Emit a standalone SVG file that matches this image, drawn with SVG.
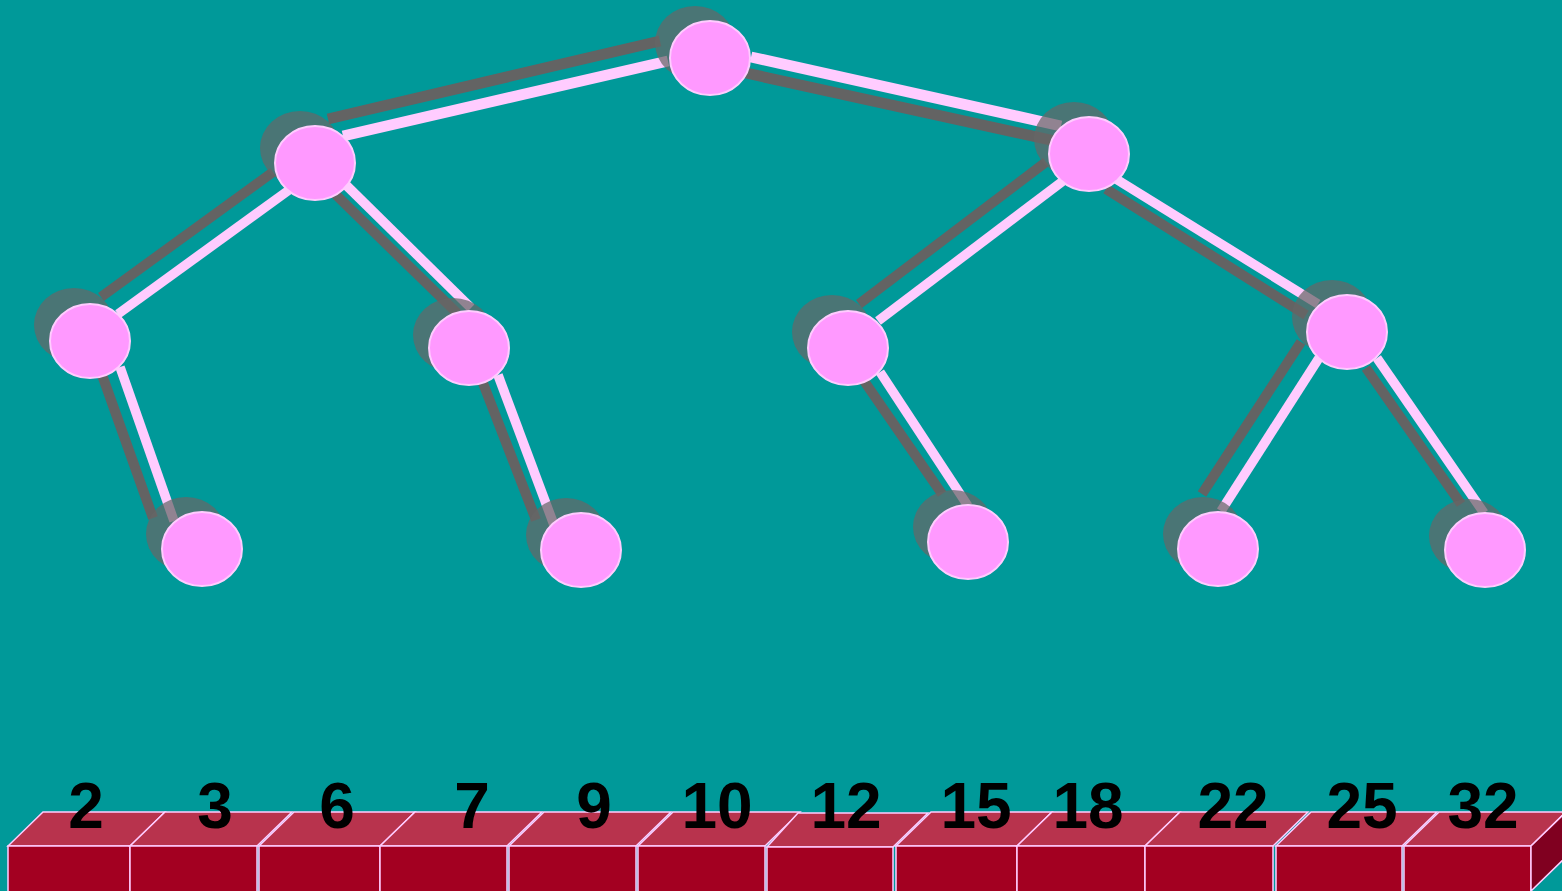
<svg xmlns="http://www.w3.org/2000/svg" width="1562" height="891" viewBox="0 0 1562 891">
<style>
.g{stroke:#636363;stroke-width:10;stroke-linecap:butt;fill:none}
.p{stroke:#FFCCFF;stroke-width:9.5;stroke-linecap:butt;fill:none}
.w{stroke-width:11}
.sh{fill:#666666;fill-opacity:0.72}
.nd{fill:#FF99FF;stroke:#FFCCFF;stroke-width:2}
.front{fill:#A30021;stroke:#FFCCFF;stroke-width:1.5}
.top{fill:#B8334D;stroke:#FFCCFF;stroke-width:1.5}
.side{fill:#800020;stroke:#FFCCFF;stroke-width:1.5}
.num{font-family:"Liberation Sans",Arial,sans-serif;font-weight:bold;font-size:64px;fill:#000;text-anchor:middle}
</style>
<rect x="0" y="0" width="1562" height="891" fill="#009999"/>
<g id="connectors">
<line class="g w" x1="328" y1="119" x2="660" y2="41"/>
<line class="p w" x1="343" y1="136" x2="668" y2="61"/>
<line class="g w" x1="746" y1="73" x2="1055" y2="141"/>
<line class="p w" x1="751" y1="57" x2="1061" y2="126"/>
<line class="g" x1="273" y1="172" x2="101" y2="297"/>
<line class="p" x1="289" y1="190" x2="118" y2="314"/>
<line class="g" x1="333" y1="192" x2="457" y2="313"/>
<line class="p" x1="346" y1="185" x2="471" y2="308"/>
<line class="g" x1="101" y1="372" x2="153" y2="518"/>
<line class="p" x1="120" y1="367" x2="174" y2="521"/>
<line class="g" x1="481" y1="378" x2="536" y2="520"/>
<line class="p" x1="498" y1="375" x2="554" y2="525"/>
<line class="g" x1="1046" y1="162" x2="859" y2="304"/>
<line class="p" x1="1063" y1="181" x2="878" y2="321"/>
<line class="g" x1="1106" y1="189" x2="1306" y2="315"/>
<line class="p" x1="1116" y1="179" x2="1318" y2="304"/>
<line class="g" x1="862" y1="378" x2="942" y2="494"/>
<line class="p" x1="880" y1="372" x2="968" y2="506"/>
<line class="g" x1="1301" y1="342" x2="1202" y2="494"/>
<line class="p" x1="1319" y1="358" x2="1221" y2="511"/>
<line class="g" x1="1366" y1="368" x2="1461" y2="504"/>
<line class="p" x1="1377" y1="358" x2="1484" y2="513"/>
</g>
<g id="n-root"><ellipse class="sh" cx="695" cy="43" rx="40" ry="37"/><ellipse class="nd" cx="710" cy="58" rx="40" ry="37"/></g>
<g id="n-l1a"><ellipse class="sh" cx="300" cy="148" rx="40" ry="37"/><ellipse class="nd" cx="315" cy="163" rx="40" ry="37"/></g>
<g id="n-l1b"><ellipse class="sh" cx="1074" cy="139" rx="40" ry="37"/><ellipse class="nd" cx="1089" cy="154" rx="40" ry="37"/></g>
<g id="n-l2a"><ellipse class="sh" cx="74" cy="325" rx="40" ry="37"/><ellipse class="nd" cx="90" cy="341" rx="40" ry="37"/></g>
<g id="n-l2b"><ellipse class="sh" cx="453" cy="335" rx="40" ry="37"/><ellipse class="nd" cx="469" cy="348" rx="40" ry="37"/></g>
<g id="n-l2c"><ellipse class="sh" cx="832" cy="332" rx="40" ry="37"/><ellipse class="nd" cx="848" cy="348" rx="40" ry="37"/></g>
<g id="n-l2d"><ellipse class="sh" cx="1332" cy="317" rx="40" ry="37"/><ellipse class="nd" cx="1347" cy="332" rx="40" ry="37"/></g>
<g id="n-l3a"><ellipse class="sh" cx="186" cy="534" rx="40" ry="37"/><ellipse class="nd" cx="202" cy="549" rx="40" ry="37"/></g>
<g id="n-l3b"><ellipse class="sh" cx="566" cy="535" rx="40" ry="37"/><ellipse class="nd" cx="581" cy="550" rx="40" ry="37"/></g>
<g id="n-l3c"><ellipse class="sh" cx="953" cy="527" rx="40" ry="37"/><ellipse class="nd" cx="968" cy="542" rx="40" ry="37"/></g>
<g id="n-l3d"><ellipse class="sh" cx="1203" cy="534" rx="40" ry="37"/><ellipse class="nd" cx="1218" cy="549" rx="40" ry="37"/></g>
<g id="n-l3e"><ellipse class="sh" cx="1469" cy="536" rx="40" ry="37"/><ellipse class="nd" cx="1485" cy="550" rx="40" ry="37"/></g>
<g id="array">
<g id="b1"><polygon class="top" points="8,846 43,812 165,812 130,846"/><rect class="front" x="8" y="846" width="122" height="50"/></g>
<g id="b2"><polygon class="top" points="130,846 165,812 292,812 257,846"/><rect class="front" x="130" y="846" width="127" height="50"/></g>
<g id="b3"><polygon class="top" points="259,846 294,812 415,812 380,846"/><rect class="front" x="259" y="846" width="121" height="50"/></g>
<g id="b4"><polygon class="top" points="380,846 415,812 542,812 507,846"/><rect class="front" x="380" y="846" width="127" height="50"/></g>
<g id="b5"><polygon class="top" points="509,846 544,812 671,812 636,846"/><rect class="front" x="509" y="846" width="127" height="50"/></g>
<g id="b6"><polygon class="top" points="638,846 673,812 800,812 765,846"/><rect class="front" x="638" y="846" width="127" height="50"/></g>
<g id="b7"><polygon class="top" points="767,847 798,813 928,813 893,847"/><rect class="front" x="767" y="847" width="126" height="50"/></g>
<g id="b8"><polygon class="top" points="896,846 931,812 1052,812 1017,846"/><rect class="front" x="896" y="846" width="121" height="50"/></g>
<g id="b9"><polygon class="top" points="1017,846 1052,812 1180,812 1145,846"/><rect class="front" x="1017" y="846" width="128" height="50"/></g>
<g id="b10"><polygon class="top" points="1145,846 1180,812 1308,812 1273,846"/><rect class="front" x="1145" y="846" width="128" height="50"/></g>
<g id="b11"><polygon class="top" points="1276,846 1311,812 1437,812 1402,846"/><rect class="front" x="1276" y="846" width="126" height="50"/></g>
<g id="b12"><polygon class="top" points="1404,846 1439,812 1566,812 1531,846"/><rect class="front" x="1404" y="846" width="127" height="50"/><polygon class="side" points="1531,846 1566,812 1566,857 1531,891"/></g>
</g>
<g id="labels">
<text class="num" x="86" y="828">2</text>
<text class="num" x="215" y="828">3</text>
<text class="num" x="337" y="828">6</text>
<text class="num" x="472" y="828">7</text>
<text class="num" x="594" y="828">9</text>
<text class="num" x="717" y="828">10</text>
<text class="num" x="846" y="828">12</text>
<text class="num" x="976" y="828">15</text>
<text class="num" x="1088" y="828">18</text>
<text class="num" x="1233" y="828">22</text>
<text class="num" x="1362" y="828">25</text>
<text class="num" x="1483" y="828">32</text>
</g>
</svg>
